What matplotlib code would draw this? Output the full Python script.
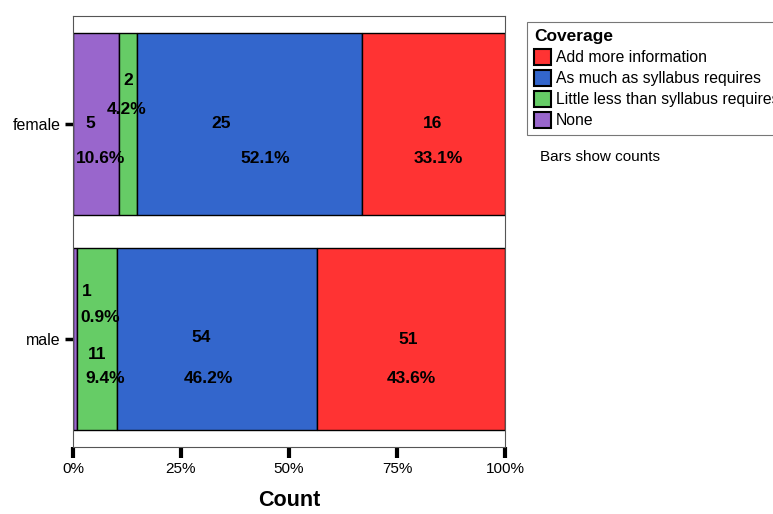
import matplotlib.pyplot as plt
import numpy as np

plt.rcParams['font.family'] = ['Liberation Sans', 'DejaVu Sans']

groups = ['male', 'female']
categories = ['None', 'Little less than syllabus requires',
              'As much as syllabus requires', 'Add more information']
colors = ['#9966CC', '#66CC66', '#3366CC', '#FF3333']

counts = {'male': [1, 11, 54, 51], 'female': [5, 2, 25, 16]}
percents = {'male': [0.9, 9.4, 46.2, 43.6], 'female': [10.6, 4.2, 52.1, 33.1]}

# label offsets (x in percent, y in bar units) for count and percent labels
label_offsets = {
    'male': [((2.8, 0.22), (5.8, 0.10)), ((0.0, -0.07), (1.8, -0.18)),
             ((-3.7, 0.01), (-2.1, -0.18)), ((-0.8, 0.0), (0.0, -0.18))],
    'female': [((-1.4, 0.0), (1.0, -0.16)), ((0.2, 0.20), (-0.2, 0.065)),
               ((-6.5, 0.0), (3.7, -0.16)), ((-0.2, 0.0), (1.2, -0.16))],
}

fig = plt.figure(figsize=(7.73, 5.14), dpi=100)
ax = fig.add_axes([73 / 773, 1 - 447 / 514, 432 / 773, 431 / 514])

ypos = np.arange(len(groups))
bar_h = 182 / 216
for gi, g in enumerate(groups):
    left = 0
    for ci, c in enumerate(categories):
        w = percents[g][ci]
        ax.barh(ypos[gi], w, left=left, height=bar_h, color=colors[ci],
                edgecolor='black', linewidth=1)
        xc = left + w / 2
        (dxc, dyc), (dxp, dyp) = label_offsets[g][ci]
        ax.text(xc + dxc, ypos[gi] + dyc, str(counts[g][ci]), ha='center', va='center',
                fontsize=12.5, fontweight='bold')
        ax.text(xc + dxp, ypos[gi] + dyp, '%.1f%%' % percents[g][ci], ha='center',
                va='center', fontsize=12.5, fontweight='bold')
        left += w

ax.set_xlim(0, 100)
ax.set_ylim(-0.5, 1.5)
ax.set_yticks(ypos)
ax.set_yticklabels(groups, fontsize=11.5)
ax.set_xticks([0, 25, 50, 75, 100])
ax.set_xticklabels(['0%', '25%', '50%', '75%', '100%'], fontsize=11)
ax.tick_params(axis='x', length=8, width=3, pad=3)
ax.tick_params(axis='y', length=6, width=2.5, pad=3)
for s in ax.spines.values():
    s.set_color('#555555')
    s.set_linewidth(0.8)
ax.set_xlabel('Count', fontsize=15.5, fontweight='bold', labelpad=10)

handles = [plt.Rectangle((0, 0), 1, 1, facecolor=colors[i], edgecolor='black', linewidth=1.5)
           for i in [3, 2, 1, 0]]
labels = [categories[i] for i in [3, 2, 1, 0]]
leg = fig.legend(handles, labels, title='Coverage', loc='upper left',
                 bbox_to_anchor=(519 / 773, 1 - 14 / 514), fontsize=11.3,
                 title_fontproperties={'weight': 'bold', 'size': 12.5},
                 frameon=True, fancybox=False, edgecolor='#555555',
                 handlelength=1.1, handleheight=1.2, handletextpad=0.3,
                 labelspacing=0.3, borderpad=0.45, alignment='left')
leg.get_frame().set_linewidth(0.8)

fig.text(540 / 773, 1 - 157 / 514, 'Bars show counts', fontsize=11, va='center')

fig.savefig('out.png', dpi=100)
